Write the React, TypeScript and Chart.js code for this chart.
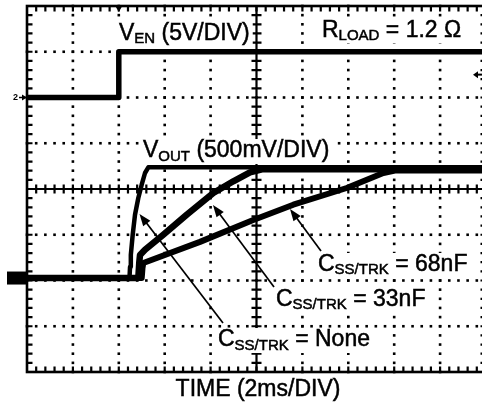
import React, { useEffect, useRef } from "react";
import { Chart, registerables } from "chart.js";
Chart.register(...registerables);

// Horizontal axis: screen divisions of time (2 ms/DIV); vertical axis: screen divisions (8 total)
const X_MAX = 9.913;
const Y_MAX = 8;

// V_EN (5V/DIV)
const venTime = [0, 2, 2, X_MAX];
const venLevel = [6, 6, 7, 7];

// V_OUT (500mV/DIV), C_SS/TRK = None
const noneTime = [0, 2.233, 2.245, 2.262, 2.303, 2.353, 2.425, 2.499, 2.571, 2.643, X_MAX];
const noneLevel = [2.054, 2.054, 2.3, 2.56, 3.0, 3.438, 3.803, 4.094, 4.35, 4.473, 4.473];

// V_OUT, C_SS/TRK = 33nF
const c33Time = [0, 2.425, 2.447, 2.462, 2.571, 2.969, 3.479, 4.059, 4.495, 4.858, 5.12, X_MAX];
const c33Level = [2.054, 2.054, 2.404, 2.557, 2.673, 3.0, 3.438, 3.913, 4.168, 4.362, 4.431, 4.431];

// V_OUT, C_SS/TRK = 68nF
const c68Time = [0, 2.499, 2.516, 2.534, 3.769, 4.902, 5.802, 6.965, 7.763, 8.017, X_MAX];
const c68Level = [2.054, 2.054, 2.273, 2.383, 2.844, 3.311, 3.657, 4.022, 4.35, 4.405, 4.405];

// Annotation labels: [main, subscript, rest]
const labelVen = ["V", "EN", " (5V/DIV)"];
const labelLoad = ["R", "LOAD", " = 1.2 Ω"];
const labelVout = ["V", "OUT", " (500mV/DIV)"];
const label68 = ["C", "SS/TRK", " = 68nF"];
const label33 = ["C", "SS/TRK", " = 33nF"];
const labelNone = ["C", "SS/TRK", " = None"];
const axisTitle = "TIME (2ms/DIV)";

// label anchors (division units: left x, baseline y)
const labelAnchorX = [2.004, 6.427, 2.527, 6.34, 5.425, 4.161];
const labelAnchorY = [7.257, 7.333, 4.699, 2.208, 1.443, 0.568];

// arrows (division units): tail -> tip
const arrowTailX = [6.405, 5.381, 4.27];
const arrowTailY = [2.645, 1.858, 1.071];
const arrowTipX = [5.73, 4.052, 2.451];
const arrowTipY = [3.563, 3.65, 3.454];

const FONT = '"Liberation Sans", Arial, Helvetica, sans-serif';

function toPts(xs: number[], ys: number[]) {
  return xs.map((x, i) => ({ x, y: ys[i] }));
}

function drawLabel(ctx: CanvasRenderingContext2D, x: number, y: number, parts: string[], box: boolean) {
  const MAIN = 23, SUB = 15, DROP = 3.5;
  const fonts = [`${MAIN}px ${FONT}`, `${SUB}px ${FONT}`, `${MAIN}px ${FONT}`];
  const widths = parts.map((p, i) => {
    ctx.font = fonts[i];
    return ctx.measureText(p).width;
  });
  const w = widths.reduce((a, b) => a + b, 0);
  if (box) {
    ctx.fillStyle = "#fff";
    ctx.fillRect(x - 3, y - 18, w + 6, 25);
  }
  ctx.fillStyle = "#000";
  ctx.strokeStyle = "#000";
  ctx.lineWidth = 0.5;
  ctx.textBaseline = "alphabetic";
  ctx.textAlign = "left";
  let cx = x;
  parts.forEach((p, i) => {
    ctx.font = fonts[i];
    const yy = i === 1 ? y + DROP : y;
    ctx.fillText(p, cx, yy);
    ctx.strokeText(p, cx, yy);
    cx += widths[i];
  });
}

function drawArrow(ctx: CanvasRenderingContext2D, x0: number, y0: number, x1: number, y1: number) {
  const ang = Math.atan2(y1 - y0, x1 - x0);
  const L = 12, H = 4.5;
  ctx.strokeStyle = "#000";
  ctx.lineWidth = 1.7;
  ctx.beginPath();
  ctx.moveTo(x0, y0);
  ctx.lineTo(x1 - Math.cos(ang) * L * 0.8, y1 - Math.sin(ang) * L * 0.8);
  ctx.stroke();
  ctx.fillStyle = "#000";
  ctx.beginPath();
  ctx.moveTo(x1, y1);
  ctx.lineTo(x1 - Math.cos(ang) * L - Math.sin(ang) * H, y1 - Math.sin(ang) * L + Math.cos(ang) * H);
  ctx.lineTo(x1 - Math.cos(ang) * L + Math.sin(ang) * H, y1 - Math.sin(ang) * L - Math.cos(ang) * H);
  ctx.closePath();
  ctx.fill();
}

const scopePlugin = {
  id: "scopeGraticule",
  beforeDatasetsDraw(chart: any) {
    const { ctx } = chart;
    const xs = chart.scales.x, ys = chart.scales.y;
    const px = (v: number) => xs.getPixelForValue(v);
    const py = (v: number) => ys.getPixelForValue(v);
    ctx.save();
    ctx.fillStyle = "#000";
    const D = 2.6;
    // dotted graticule
    for (let i = 1; i < 10; i++) {
      if (i === 5) continue;
      for (let k = 0; k <= 40; k++) ctx.fillRect(px(i) - D / 2, py(k / 5) - D / 2, D, D);
    }
    for (let j = 1; j < 8; j++) {
      if (j === 4) continue;
      for (let k = 0; k <= 50; k++) ctx.fillRect(px(k / 5) - D / 2, py(j) - D / 2, D, D);
    }
    ctx.strokeStyle = "#000";
    // center cross with minor ticks
    ctx.lineWidth = 2.2;
    ctx.beginPath();
    ctx.moveTo(px(0), py(4));
    ctx.lineTo(px(10), py(4));
    ctx.moveTo(px(5), py(0));
    ctx.lineTo(px(5), py(8));
    for (let k = 1; k < 50; k++) {
      ctx.moveTo(px(k / 5), py(4) - 4.5);
      ctx.lineTo(px(k / 5), py(4) + 4.5);
    }
    for (let k = 1; k < 40; k++) {
      ctx.moveTo(px(5) - 5, py(k / 5));
      ctx.lineTo(px(5) + 5, py(k / 5));
    }
    ctx.stroke();
    // frame
    ctx.lineWidth = 2.6;
    ctx.strokeRect(px(0), py(8), px(10) - px(0), py(0) - py(8));
    ctx.lineWidth = 2.2;
    ctx.beginPath();
    for (let k = 1; k < 50; k++) {
      ctx.moveTo(px(k / 5), py(8));
      ctx.lineTo(px(k / 5), py(8) + 5.5);
      ctx.moveTo(px(k / 5), py(0));
      ctx.lineTo(px(k / 5), py(0) - 5.5);
    }
    for (let k = 1; k < 40; k++) {
      ctx.moveTo(px(0), py(k / 5));
      ctx.lineTo(px(0) + 5.5, py(k / 5));
      ctx.moveTo(px(10), py(k / 5));
      ctx.lineTo(px(10) - 5.5, py(k / 5));
    }
    ctx.stroke();
    // trigger-position marker on top border
    ctx.beginPath();
    ctx.moveTo(px(2) - 3.5, py(8));
    ctx.lineTo(px(2) + 3.5, py(8));
    ctx.lineTo(px(2), py(8) + 6);
    ctx.closePath();
    ctx.fill();
    // labels with white backing (hide graticule under them)
    const labels = [labelVen, labelLoad, labelVout, label68, label33, labelNone];
    labels.forEach((l, i) => drawLabel(ctx, px(labelAnchorX[i]), py(labelAnchorY[i]), l, true));
    ctx.restore();
  },
  afterDatasetsDraw(chart: any) {
    const { ctx } = chart;
    const xs = chart.scales.x, ys = chart.scales.y;
    const px = (v: number) => xs.getPixelForValue(v);
    const py = (v: number) => ys.getPixelForValue(v);
    ctx.save();
    // channel-2 ground marker
    ctx.fillStyle = "#000";
    ctx.font = `bold 9px ${FONT}`;
    ctx.textBaseline = "middle";
    ctx.textAlign = "left";
    ctx.fillText("2", 13, py(6) + 0.5);
    ctx.fillRect(19, py(6) - 0.75, 5, 1.5);
    ctx.beginPath();
    ctx.moveTo(px(0), py(6));
    ctx.lineTo(px(0) - 5, py(6) - 3);
    ctx.lineTo(px(0) - 5, py(6) + 3);
    ctx.closePath();
    ctx.fill();
    // channel-1 ground marker
    ctx.fillRect(7, py(2.054) - 6.5, px(0) - 7, 13);
    // trigger-level marker at right edge
    ctx.beginPath();
    ctx.moveTo(473, py(6.5));
    ctx.lineTo(478, py(6.5) - 3.5);
    ctx.lineTo(478, py(6.5) + 3.5);
    ctx.closePath();
    ctx.fill();
    ctx.fillRect(476, py(6.5) - 1, 6, 2);
    // arrows
    for (let i = 0; i < arrowTipX.length; i++) {
      drawArrow(ctx, px(arrowTailX[i]), py(arrowTailY[i]), px(arrowTipX[i]), py(arrowTipY[i]));
    }
    // axis title
    ctx.fillStyle = "#000";
    ctx.strokeStyle = "#000";
    ctx.lineWidth = 0.5;
    ctx.font = `23px ${FONT}`;
    ctx.textAlign = "center";
    ctx.textBaseline = "alphabetic";
    ctx.fillText(axisTitle, 258, 396);
    ctx.strokeText(axisTitle, 258, 396);
    ctx.restore();
  },
};

export default function App() {
  const ref = useRef<HTMLCanvasElement>(null);
  useEffect(() => {
    document.body.style.margin = "0";
    const canvas = ref.current!;
    const line = (data: any, width: number) => ({
      data,
      borderColor: "#000",
      borderWidth: width,
      pointRadius: 0,
      fill: false,
      tension: 0,
      borderJoinStyle: "round",
      borderCapStyle: "butt",
    });
    const chart = new Chart(canvas, {
      type: "line",
      data: {
        datasets: [
          line(toPts(venTime, venLevel), 5.5),
          line(toPts(noneTime, noneLevel), 4.5),
          line(toPts(c33Time, c33Level), 6.5),
          line(toPts(c68Time, c68Level), 6),
        ] as any,
      },
      options: {
        responsive: false,
        animation: false,
        devicePixelRatio: 1,
        layout: { padding: { left: 27, top: 6, right: 0, bottom: 33 } },
        scales: {
          x: { type: "linear", min: 0, max: X_MAX, display: false },
          y: { type: "linear", min: 0, max: Y_MAX, display: false },
        },
        plugins: { legend: { display: false }, tooltip: { enabled: false } },
        events: [],
      } as any,
      plugins: [scopePlugin as any],
    });
    return () => chart.destroy();
  }, []);
  return <canvas ref={ref} width={482} height={405} style={{ display: "block", background: "#fff" }} />;
}
